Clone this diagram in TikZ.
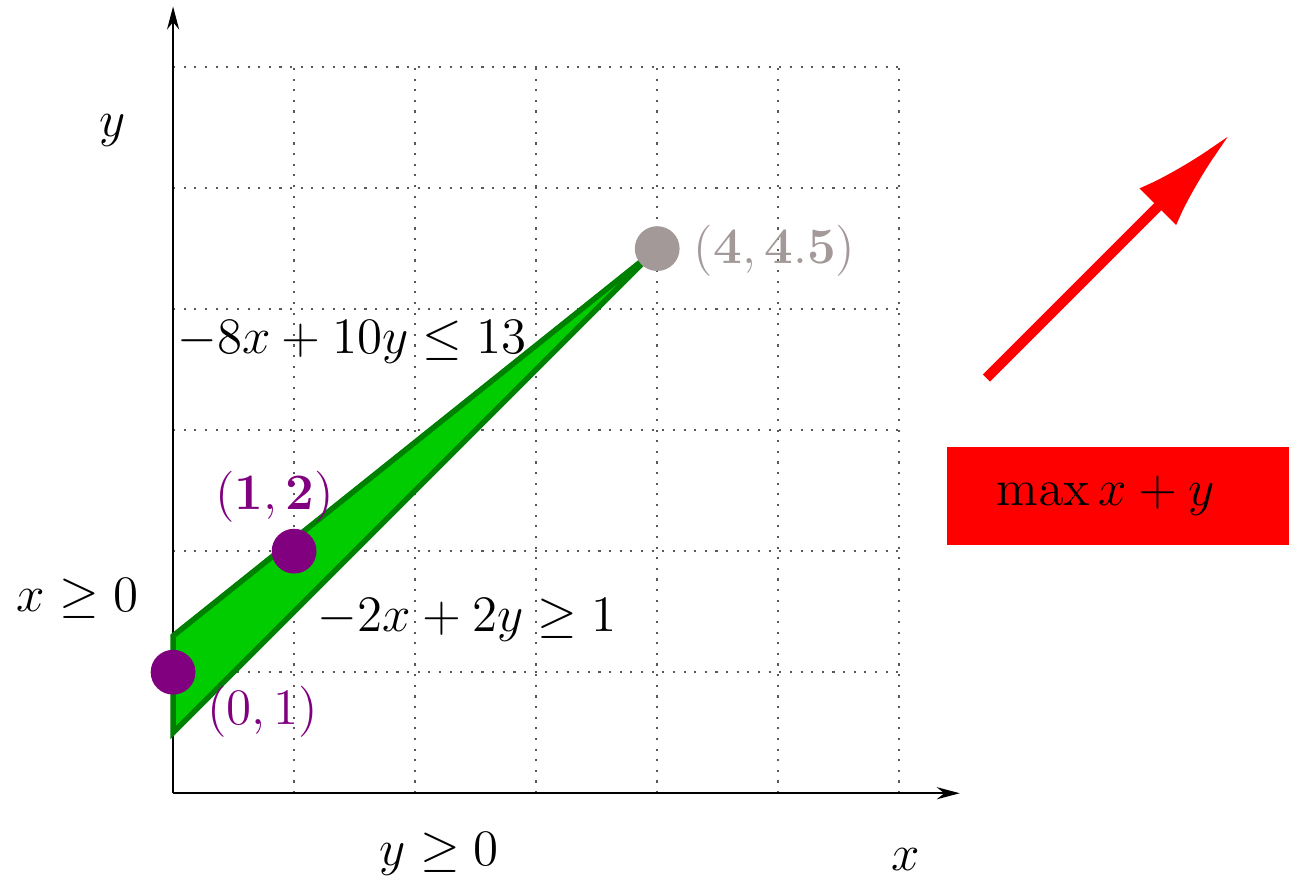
\documentclass[tikz,border=0pt]{standalone}
\usepackage{amsmath}
\usetikzlibrary{arrows.meta}
\definecolor{feasfill}{RGB}{0,204,0}
\definecolor{feasedge}{RGB}{0,128,0}
\definecolor{optgray}{RGB}{163,153,153}
\definecolor{ptpurple}{RGB}{128,0,128}
\tikzset{
  gridline/.style={gray!70!black, dotted, line width=0.5pt},
  axis/.style={line width=0.5pt, -{Stealth[length=1.9mm,width=1mm]}},
  lbl/.style={font=\fontsize{11.7}{14}\selectfont, inner sep=0pt},
  dot/.style={circle, minimum size=0.37cm, inner sep=0pt},
}
\begin{document}
\begin{tikzpicture}
\useasboundingbox (-1.43,-0.744) rectangle (9.22,6.554);
\draw[gridline] (0,0) grid (6,6);
\coordinate (O) at (0,0);
\coordinate (xend) at (6.5,0);
\coordinate (yend) at (0,6.5);
\draw[axis] (O) -- (xend);
\draw[axis] (O) -- (yend);
\coordinate (A) at (0,0.5);
\coordinate (B) at (0,1.3);
\coordinate (C) at (4,4.5);
\filldraw[fill=feasfill, draw=feasedge, line width=1.3pt, line join=miter] (A) -- (B) -- (C) -- cycle;
\node[dot, fill=ptpurple] (p01) at (0,1) {};
\node[dot, fill=ptpurple] (p12) at (1,2) {};
\node[dot, fill=optgray] (p445) at (4,4.5) {};
\node[lbl] (ylab) at (-0.5,5.48) {$y$};
\node[lbl] (xlab) at (6.05,-0.55) {$x$};
\node[lbl] (xge) at (-0.79,1.61) {$x \geq 0$};
\node[lbl] (yge) at (2.2,-0.5) {$y \geq 0$};
\node[lbl, anchor=west] (c1) at (0.03,3.73) {$-8x + 10y \leq 13$};
\node[lbl, anchor=west] (c2) at (1.19,1.43) {$-2x + 2y \geq 1$};
\node[lbl, text=ptpurple] (l12) at (0.84,2.45) {$\mathbf{(1,2)}$};
\node[lbl, text=ptpurple] (l01) at (0.74,0.67) {$(0,1)$};
\node[lbl, text=optgray] (l445) at (4.97,4.48) {$\mathbf{(4,4.5)}$};
\coordinate (ds) at (6.72,3.43);
\coordinate (de) at (8.73,5.44);
\draw[red, line width=2.4pt, -{Latex[length=8.4mm,width=4.3mm]}] (ds) -- (de);
\node[lbl, fill=red, anchor=west, minimum height=0.81cm, text width=2.02cm, inner xsep=0.41cm, align=left] (obj) at (6.39,2.455) {$\max x + y$};
\end{tikzpicture}
\end{document}
